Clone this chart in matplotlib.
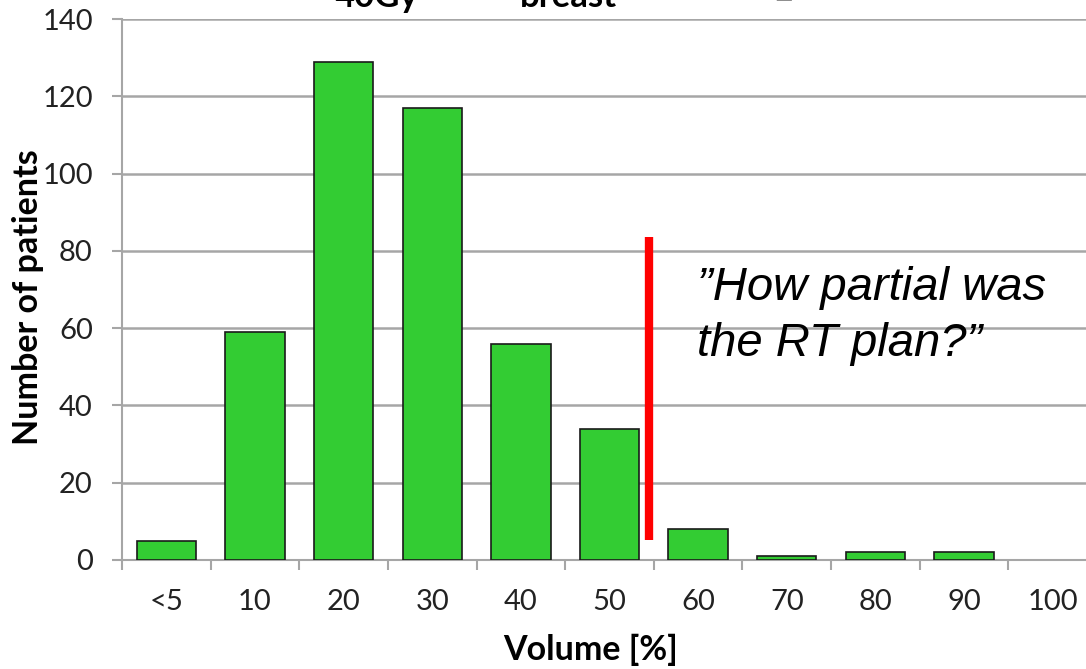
import matplotlib
matplotlib.use("Agg")
import matplotlib.pyplot as plt
import numpy as np

categories = ["<5", "10", "20", "30", "40", "50", "60", "70", "80", "90", "100"]
patients = [5, 59, 129, 117, 56, 34, 8, 1, 2, 2, 0]
y_ticks = [0, 20, 40, 60, 80, 100, 120, 140]
marker_x = 5.44
marker_y = [5.2, 83.6]
annotation = "\u201dHow partial was\nthe RT plan?\u201d"

W, H = 1086, 669
fig = plt.figure(figsize=(W / 100, H / 100), dpi=100)
left = 122 / W
right = 1097 / W
bottom = 1 - 560 / H
top = 1 - 19 / H
ax = fig.add_axes([left, bottom, right - left, top - bottom])

x = np.arange(len(categories))
edges = ["#1a1a1a" if v > 0 else "none" for v in patients]
ax.bar(x, patients, width=0.67, color="#33CC33", edgecolor=edges, linewidth=1.2, zorder=3)

ax.set_xlim(-0.5, len(categories) - 0.5)
ax.set_ylim(0, 140)
ax.set_yticks(y_ticks)
ax.yaxis.grid(True, color="#a6a6a6", linewidth=1.8, zorder=0)
ax.set_axisbelow(True)

for s in ["top", "right"]:
    ax.spines[s].set_visible(False)
for s in ["left", "bottom"]:
    ax.spines[s].set_color("#a6a6a6")
    ax.spines[s].set_linewidth(1.5)
    ax.spines[s].set_zorder(1)

ax.set_xticks(x)
ax.set_xticklabels(categories)
ax.set_xticks(np.arange(-0.5, len(categories), 1.0), minor=True)
ax.tick_params(axis="x", which="major", length=0, pad=21, labelsize=21, labelcolor="#222222")
ax.tick_params(axis="x", which="minor", length=7, width=1.5, color="#a6a6a6", direction="out")
ax.tick_params(axis="y", length=7, width=1.5, color="#a6a6a6", direction="out", pad=14,
               labelsize=21, labelcolor="#222222")
for lab in ax.get_xticklabels() + ax.get_yticklabels():
    lab.set_family("Lato")

ax.plot([marker_x, marker_x], marker_y, color="#FF0000", linewidth=6, solid_capstyle="butt", zorder=4)

fig.text(697 / W, 1 - 356 / H, annotation, fontsize=34, style="italic",
         family="Liberation Sans", va="baseline", ha="left", linespacing=1.34)

fig.text(28 / W, 1 - 297 / H, "Number of patients", rotation=90, fontsize=24.5,
         fontweight="bold", family="Lato", ha="center", va="center")
fig.text(591 / W, 1 - 650 / H, "Volume [%]", fontsize=24.5, fontweight="bold",
         family="Lato", ha="center", va="center")

# title, cut off at the top of the image
fig.text(377 / W, 1 - 7 / H, "40Gy", fontsize=25, fontweight="bold", family="Lato",
         ha="center", va="baseline")
fig.text(568 / W, 1 - 7 / H, "breast", fontsize=25, fontweight="bold", family="Lato",
         ha="center", va="baseline")
fig.text(784 / W, 1 - 1 / H, "\u25aa", fontsize=22, fontweight="bold", family="DejaVu Sans",
         ha="center", va="baseline")

fig.savefig("out.png", dpi=100)
